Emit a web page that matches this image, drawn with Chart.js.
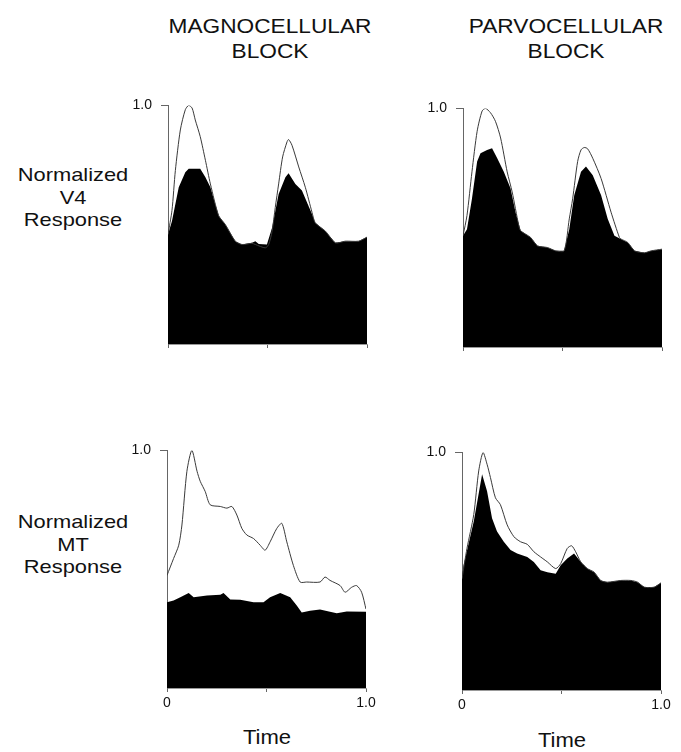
<!DOCTYPE html>
<html>
<head>
<meta charset="utf-8">
<script src="https://cdn.jsdelivr.net/npm/chart.js@4.4.1/dist/chart.umd.min.js"></script>
<style>
  html, body { margin: 0; padding: 0; background: #fff; }
  #page { position: relative; width: 681px; height: 752px; overflow: hidden; font-family: "Liberation Sans", Arial, sans-serif; color: #111; }
  .txt { position: absolute; text-align: center; white-space: nowrap; transform-origin: 50% 50%; }
  .head { font-size: 21px; line-height: 25px; width: 260px; transform: scaleX(1.08); }
  .row { font-size: 19px; line-height: 22.5px; width: 150px; transform: scaleX(1.15); }
  .time { font-size: 21px; line-height: 24px; width: 120px; transform: scaleX(1.05); }
  canvas { position: absolute; }
</style>
</head>
<body>
<div id="page">
  <div class="txt head" style="left:140px; top:13px;">MAGNOCELLULAR<br>BLOCK</div>
  <div class="txt head" style="left:436px; top:13px;">PARVOCELLULAR<br>BLOCK</div>
  <div class="txt row" style="left:-2px; top:164px;">Normalized<br>V4<br>Response</div>
  <div class="txt row" style="left:-2px; top:511px;">Normalized<br>MT<br>Response</div>
  <div class="txt time" style="left:207px; top:725px;">Time</div>
  <div class="txt time" style="left:502px; top:728px;">Time</div>
  <canvas id="tl"></canvas>
  <canvas id="tr"></canvas>
  <canvas id="bl"></canvas>
  <canvas id="br"></canvas>
</div>
<script>
// time axis is normalized 0..1, responses normalized to the peak (1.0)

// magnocellular block, V4
const tlFillT = [0, 0.02, 0.054, 0.087, 0.104, 0.162, 0.188, 0.213, 0.255, 0.288, 0.338, 0.372, 0.422, 0.439, 0.456, 0.497, 0.523, 0.556, 0.59, 0.606, 0.64, 0.673, 0.724, 0.74, 0.791, 0.841, 0.891, 0.958, 1];
const tlFillV = [0.459, 0.516, 0.657, 0.72, 0.734, 0.734, 0.699, 0.657, 0.537, 0.501, 0.431, 0.417, 0.424, 0.431, 0.419, 0.417, 0.487, 0.629, 0.699, 0.716, 0.671, 0.643, 0.544, 0.508, 0.473, 0.424, 0.431, 0.431, 0.448];
const tlLineT = [0, 0.02, 0.037, 0.062, 0.087, 0.104, 0.121, 0.137, 0.162, 0.188, 0.213, 0.255, 0.288, 0.338, 0.372, 0.422, 0.439, 0.489, 0.506, 0.523, 0.539, 0.556, 0.576, 0.598, 0.606, 0.623, 0.657, 0.69, 0.724, 0.74, 0.791, 0.841, 0.891, 0.958, 1];
const tlLineV = [0.459, 0.56, 0.727, 0.897, 0.982, 1.0, 0.989, 0.939, 0.869, 0.77, 0.671, 0.537, 0.501, 0.431, 0.417, 0.422, 0.417, 0.403, 0.417, 0.473, 0.572, 0.671, 0.784, 0.847, 0.857, 0.833, 0.742, 0.657, 0.551, 0.508, 0.473, 0.424, 0.431, 0.431, 0.448];

// parvocellular block, V4
const trFillT = [0, 0.02, 0.045, 0.071, 0.088, 0.121, 0.146, 0.172, 0.205, 0.239, 0.264, 0.29, 0.34, 0.374, 0.424, 0.466, 0.508, 0.534, 0.559, 0.593, 0.618, 0.652, 0.694, 0.727, 0.761, 0.795, 0.828, 0.862, 0.912, 0.946, 1];
const trFillV = [0.466, 0.494, 0.621, 0.777, 0.812, 0.826, 0.833, 0.791, 0.734, 0.664, 0.565, 0.487, 0.459, 0.424, 0.417, 0.403, 0.403, 0.494, 0.636, 0.734, 0.756, 0.72, 0.636, 0.537, 0.466, 0.452, 0.438, 0.403, 0.395, 0.403, 0.41];
const trLineT = [0, 0.02, 0.045, 0.071, 0.096, 0.113, 0.138, 0.163, 0.189, 0.222, 0.247, 0.28, 0.29, 0.34, 0.374, 0.424, 0.466, 0.508, 0.534, 0.551, 0.576, 0.593, 0.609, 0.626, 0.652, 0.694, 0.744, 0.786, 0.795, 0.828, 0.862, 0.912, 0.946, 1];
const trLineV = [0.466, 0.551, 0.734, 0.904, 0.989, 1.0, 0.982, 0.946, 0.876, 0.734, 0.65, 0.51, 0.487, 0.459, 0.424, 0.417, 0.403, 0.403, 0.537, 0.621, 0.777, 0.826, 0.836, 0.831, 0.791, 0.706, 0.565, 0.459, 0.452, 0.438, 0.403, 0.395, 0.403, 0.41];

// magnocellular block, MT
const blFillT = [0, 0.033, 0.067, 0.109, 0.134, 0.201, 0.268, 0.284, 0.318, 0.368, 0.435, 0.485, 0.518, 0.569, 0.619, 0.652, 0.677, 0.719, 0.769, 0.819, 0.853, 0.903, 1];
const blFillV = [0.361, 0.368, 0.382, 0.4, 0.382, 0.389, 0.392, 0.4, 0.372, 0.371, 0.361, 0.361, 0.382, 0.4, 0.382, 0.347, 0.318, 0.325, 0.33, 0.321, 0.315, 0.322, 0.321];
const blLineT = [0, 0.033, 0.059, 0.075, 0.1, 0.125, 0.151, 0.167, 0.192, 0.217, 0.268, 0.301, 0.326, 0.351, 0.376, 0.401, 0.435, 0.468, 0.493, 0.518, 0.552, 0.577, 0.602, 0.635, 0.669, 0.702, 0.769, 0.794, 0.819, 0.87, 0.895, 0.928, 0.953, 0.978, 1];
const blLineV = [0.474, 0.545, 0.601, 0.686, 0.912, 1.0, 0.912, 0.87, 0.827, 0.771, 0.764, 0.757, 0.764, 0.728, 0.672, 0.644, 0.629, 0.601, 0.58, 0.615, 0.672, 0.693, 0.615, 0.516, 0.446, 0.446, 0.446, 0.467, 0.453, 0.431, 0.403, 0.424, 0.431, 0.403, 0.332];

// parvocellular block, MT
const brFillT = [0, 0.008, 0.059, 0.101, 0.126, 0.151, 0.176, 0.21, 0.244, 0.277, 0.328, 0.361, 0.395, 0.429, 0.471, 0.496, 0.529, 0.563, 0.597, 0.63, 0.664, 0.697, 0.731, 0.798, 0.849, 0.882, 0.916, 0.966, 1];
const brFillV = [0.468, 0.525, 0.709, 0.908, 0.837, 0.723, 0.667, 0.624, 0.589, 0.574, 0.56, 0.539, 0.504, 0.496, 0.489, 0.525, 0.553, 0.574, 0.539, 0.511, 0.496, 0.461, 0.454, 0.461, 0.461, 0.454, 0.433, 0.433, 0.451];
const brLineT = [0, 0.025, 0.059, 0.084, 0.106, 0.126, 0.143, 0.168, 0.193, 0.227, 0.261, 0.294, 0.328, 0.361, 0.395, 0.429, 0.471, 0.496, 0.529, 0.551, 0.571, 0.597, 0.63, 0.664, 0.697, 0.731, 0.798, 0.849, 0.882, 0.916, 0.966, 1];
const brLineV = [0.468, 0.596, 0.738, 0.922, 1.0, 0.95, 0.894, 0.809, 0.78, 0.695, 0.645, 0.624, 0.613, 0.582, 0.56, 0.539, 0.511, 0.532, 0.596, 0.607, 0.582, 0.539, 0.511, 0.496, 0.461, 0.454, 0.461, 0.461, 0.454, 0.433, 0.433, 0.451];

const FONT = "Liberation Sans, Arial, sans-serif";
const AXIS_GRAY = "#666";
const PAD_L = 50, PAD_T = 10, PAD_R = 14, PAD_B = 35;

function pts(t, v) { return t.map((x, i) => ({ x: x, y: v[i] })); }

function renderPanel(id, box, fillT, fillV, lineT, lineV, showTime) {
  const cv = document.getElementById(id);
  cv.width  = box.w + PAD_L + PAD_R;
  cv.height = box.h + PAD_T + PAD_B;
  cv.style.left = (box.x - PAD_L) + "px";
  cv.style.top  = (box.y - PAD_T) + "px";

  return new Chart(cv.getContext("2d"), {
    type: "line",
    data: {
      datasets: [
        {
          label: "control",
          data: pts(lineT, lineV),
          borderColor: "#3a3a3a",
          borderWidth: 1,
          pointRadius: 0,
          fill: false,
          tension: 0.25,
        },
        {
          label: "block",
          data: pts(fillT, fillV),
          borderColor: "#000",
          borderWidth: 0,
          backgroundColor: "#000",
          pointRadius: 0,
          fill: "origin",
          tension: 0,
        },
      ],
    },
    options: {
      responsive: false,
      devicePixelRatio: 1,
      animation: false,
      layout: { padding: { left: 0, top: PAD_T, right: PAD_R, bottom: 0 } },
      plugins: { legend: { display: false }, tooltip: { enabled: false } },
      scales: {
        x: {
          type: "linear", min: 0, max: 1,
          afterFit: (s) => { s.height = PAD_B; },
          afterBuildTicks: (s) => { s.ticks = [{ value: 0 }, { value: 0.5 }, { value: 1 }]; },
          grid: { drawOnChartArea: false, drawTicks: true, tickLength: 4, color: AXIS_GRAY, lineWidth: 1 },
          border: { display: true, color: "#999", width: 1 },
          ticks: {
            padding: 3, maxRotation: 0, autoSkip: false,
            font: { family: FONT, size: 14 }, color: "#111",
            callback: (v) => !showTime ? "" : v === 0 ? "0" : v === 1 ? "1.0" : "",
          },
        },
        y: {
          type: "linear", min: 0, max: 1,
          afterFit: (s) => { s.width = PAD_L; },
          afterBuildTicks: (s) => { s.ticks = [{ value: 1 }]; },
          grid: { drawOnChartArea: false, drawTicks: true, tickLength: 7, color: AXIS_GRAY, lineWidth: 1 },
          border: { display: true, color: AXIS_GRAY, width: 1 },
          ticks: {
            padding: 9,
            font: { family: FONT, size: 14 }, color: "#111",
            callback: () => "1.0",
          },
        },
      },
    },
  });
}

renderPanel("tl", { x: 168, y: 98,  w: 199, h: 246 }, tlFillT, tlFillV, tlLineT, tlLineV, false);
renderPanel("tr", { x: 463, y: 101, w: 199, h: 246 }, trFillT, trFillV, trLineT, trLineV, false);
renderPanel("bl", { x: 167, y: 443, w: 199, h: 245 }, blFillT, blFillV, blLineT, blLineV, true);
renderPanel("br", { x: 462, y: 445, w: 199, h: 245 }, brFillT, brFillV, brLineT, brLineV, true);
</script>
</body>
</html>
